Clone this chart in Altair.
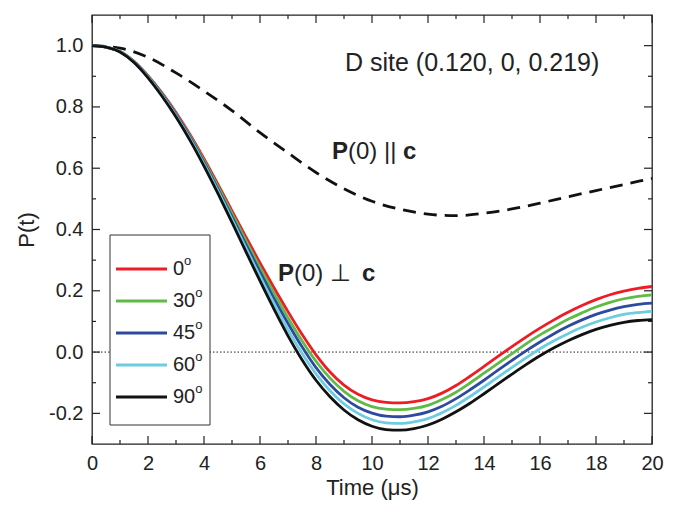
import altair as alt
import pandas as pd

# ---------------- data ----------------
time = [0, 0.5, 1, 1.5, 2, 2.5, 3, 3.5, 4, 4.5, 5, 5.5, 6, 6.5, 7, 7.5, 8, 8.5, 9, 9.5,
        10, 10.5, 11, 11.5, 12, 12.5, 13, 13.5, 14, 14.5, 15, 15.5, 16, 16.5, 17, 17.5,
        18, 18.5, 19, 19.5, 20]

p_0deg = [1.000, 0.995, 0.981, 0.949, 0.902, 0.846, 0.782, 0.710, 0.631, 0.547, 0.461,
          0.375, 0.291, 0.210, 0.132, 0.058, -0.009, -0.065, -0.108, -0.138, -0.156,
          -0.164, -0.166, -0.162, -0.152, -0.134, -0.109, -0.079, -0.047, -0.014, 0.018,
          0.049, 0.078, 0.105, 0.130, 0.152, 0.171, 0.187, 0.199, 0.208, 0.214]
p_30deg = [1.000, 0.995, 0.981, 0.948, 0.900, 0.843, 0.778, 0.705, 0.625, 0.540, 0.452,
           0.363, 0.276, 0.193, 0.112, 0.037, -0.030, -0.085, -0.128, -0.159, -0.178,
           -0.186, -0.188, -0.184, -0.174, -0.155, -0.131, -0.101, -0.069, -0.037, -0.005,
           0.027, 0.056, 0.082, 0.107, 0.128, 0.147, 0.162, 0.174, 0.182, 0.187]
p_45deg = [1.000, 0.995, 0.980, 0.947, 0.899, 0.841, 0.775, 0.701, 0.619, 0.532, 0.442,
           0.351, 0.262, 0.175, 0.093, 0.017, -0.051, -0.106, -0.149, -0.180, -0.199,
           -0.209, -0.211, -0.206, -0.195, -0.177, -0.152, -0.123, -0.092, -0.059, -0.027,
           0.004, 0.033, 0.060, 0.084, 0.105, 0.123, 0.137, 0.148, 0.156, 0.160]
p_60deg = [1.000, 0.995, 0.980, 0.946, 0.897, 0.838, 0.771, 0.696, 0.613, 0.525, 0.433,
           0.339, 0.247, 0.158, 0.073, -0.004, -0.071, -0.126, -0.169, -0.200, -0.221,
           -0.231, -0.233, -0.228, -0.217, -0.198, -0.174, -0.145, -0.114, -0.082, -0.050,
           -0.019, 0.011, 0.037, 0.060, 0.081, 0.098, 0.112, 0.123, 0.129, 0.133]
p_90deg = [1.000, 0.995, 0.979, 0.945, 0.895, 0.835, 0.767, 0.691, 0.607, 0.517, 0.423,
           0.327, 0.232, 0.140, 0.053, -0.025, -0.092, -0.146, -0.189, -0.221, -0.242,
           -0.253, -0.255, -0.250, -0.238, -0.219, -0.195, -0.167, -0.136, -0.104, -0.072,
           -0.041, -0.012, 0.014, 0.037, 0.057, 0.074, 0.087, 0.097, 0.103, 0.106]

angles = ["0", "30", "45", "60", "90"]
colors = ["#ee1c25", "#5fba46", "#2e4a9e", "#6dcce0", "#111111"]

dash_time = [0, 1, 2, 3, 4, 5, 6, 7, 8, 9, 10, 11, 12, 13, 14, 15, 16, 17, 18, 19, 20]
dash_p = [1.000, 0.992, 0.962, 0.911, 0.852, 0.788, 0.716, 0.650, 0.586, 0.533, 0.492,
          0.466, 0.450, 0.445, 0.453, 0.467, 0.486, 0.507, 0.527, 0.547, 0.567]

x_major = [0, 2, 4, 6, 8, 10, 12, 14, 16, 18, 20]
x_minor = [1, 3, 5, 7, 9, 11, 13, 15, 17, 19]
y_major = [-0.2, 0.0, 0.2, 0.4, 0.6, 0.8, 1.0]
y_minor = [-0.1, 0.1, 0.3, 0.5, 0.7, 0.9]

# ---------------- tables ----------------
series = [p_0deg, p_30deg, p_45deg, p_60deg, p_90deg]
rows = []
for a, vals in zip(angles, series):
    for ti, v in zip(time, vals):
        rows.append({"angle": a, "t": ti, "p": v})
df = pd.DataFrame(rows)
dash_df = pd.DataFrame({"t": dash_time, "p": dash_p})
leg_df = pd.DataFrame({"angle": angles, "row": list(range(len(angles)))})

W, H = 560, 429
FONT = "Liberation Sans"
INK = "#222222"

xs = alt.Scale(domain=[0, 20], nice=False, zero=False)
ys = alt.Scale(domain=[-0.3, 1.1], nice=False, zero=False)
cs = alt.Scale(domain=angles, range=colors)

x_axis = alt.Axis(values=x_major, title="Time (μs)", ticks=False, tickSize=0, domain=False,
                  grid=False, labelPadding=9, labelFontSize=20, titleFontSize=22,
                  titleFontWeight="normal", titlePadding=4, labelColor=INK,
                  titleColor=INK, labelFlush=False, labelOverlap=False,
                  labelFont=FONT, titleFont=FONT)
y_axis = alt.Axis(values=y_major, title="P(t)", ticks=False, tickSize=0, domain=False,
                  grid=False, labelPadding=9, labelFontSize=20, titleFontSize=22,
                  titleFontWeight="normal", titlePadding=10, labelColor=INK,
                  titleColor=INK, labelFlush=False, labelOverlap=False,
                  labelFont=FONT, titleFont=FONT,
                  labelExpr="datum.value < 0 ? '-' + format(-datum.value, '.1f') : format(datum.value, '.1f')")

X = lambda f: alt.X(f, scale=xs, axis=x_axis)
Y = lambda f: alt.Y(f, scale=ys, axis=y_axis)

zero_line = alt.Chart(pd.DataFrame({"y": [0.0]})).mark_rule(
    color=INK, strokeWidth=1, strokeDash=[1.5, 2]
).encode(y=Y("y:Q"))

dashed = alt.Chart(dash_df).mark_line(
    color="#111", strokeWidth=2.8, strokeDash=[13, 8], interpolate="monotone"
).encode(x=X("t:Q"), y=Y("p:Q"))

solid = alt.Chart(df).mark_line(strokeWidth=2.8, interpolate="monotone").encode(
    x=X("t:Q"), y=Y("p:Q"),
    color=alt.Color("angle:N", scale=cs, legend=None),
)

# manual legend
leg_box = alt.Chart(pd.DataFrame({"a": [0]})).mark_rect(
    fill="white", stroke="#333", strokeWidth=1
).encode(x=alt.value(18), x2=alt.value(118), y=alt.value(220), y2=alt.value(410))

leg_base = alt.Chart(leg_df).transform_calculate(
    ly="254 + 32 * datum.row", sx="81 + 11.1 * length(datum.angle)", sy="246 + 32 * datum.row"
)
leg_lines = leg_base.mark_rule(strokeWidth=2.8).encode(
    x=alt.value(24), x2=alt.value(75), y=alt.Y("ly:Q", scale=None),
    color=alt.Color("angle:N", scale=cs, legend=None),
)
leg_text = leg_base.mark_text(align="left", baseline="middle", fontSize=20, font=FONT,
                              color=INK).encode(
    x=alt.value(81), y=alt.Y("ly:Q", scale=None), text="angle:N")
leg_sup = leg_base.mark_text(align="left", baseline="middle", fontSize=13, font=FONT,
                             color=INK, text="o").encode(
    x=alt.X("sx:Q", scale=None), y=alt.Y("sy:Q", scale=None))

# annotations
def label(txt, x, y, size, weight="normal"):
    return alt.Chart(pd.DataFrame({"a": [0]})).mark_text(
        text=txt, align="left", baseline="middle", fontSize=size, fontWeight=weight,
        font=FONT, color=INK
    ).encode(x=alt.value(x), y=alt.value(y))

ann = [
    label("D site (0.120, 0, 0.219)", 253, 48, 25),
    label("P", 240, 137, 24, "bold"),
    label("(0) || ", 256, 137, 24),
    label("c", 311, 137, 24, "bold"),
    label("P", 186, 259, 24, "bold"),
    label("(0) ⊥ ", 202, 259, 24),
    label("c", 270, 259, 24, "bold"),
]

# inward ticks
def ticks(vals, axis, length, side):
    d = pd.DataFrame({"v": vals})
    c = alt.Chart(d).mark_rule(color=INK, strokeWidth=1.2)
    if axis == "x":
        y0 = H if side == "bottom" else 0
        y1 = y0 - length if side == "bottom" else length
        return c.encode(x=X("v:Q"), y=alt.value(y0), y2=alt.value(y1))
    x0 = 0 if side == "left" else W
    x1 = length if side == "left" else W - length
    return c.encode(y=Y("v:Q"), x=alt.value(x0), x2=alt.value(x1))

tick_layers = [
    ticks(x_major, "x", 8, "bottom"), ticks(x_minor, "x", 4, "bottom"),
    ticks(x_major, "x", 8, "top"), ticks(x_minor, "x", 4, "top"),
    ticks(y_major, "y", 8, "left"), ticks(y_minor, "y", 4, "left"),
    ticks(y_major, "y", 8, "right"), ticks(y_minor, "y", 4, "right"),
]

chart = alt.layer(
    zero_line, dashed, solid, leg_box, leg_lines, leg_text, leg_sup, *ann, *tick_layers
).properties(
    width=W, height=H,
    autosize=alt.AutoSizeParams(type="none"),
    padding={"left": 84, "top": 7, "right": 16, "bottom": 62},
).configure(font=FONT).configure_view(stroke=INK, strokeWidth=1.3)

chart.save("out.html", embed_options={"renderer": "svg", "actions": False})
